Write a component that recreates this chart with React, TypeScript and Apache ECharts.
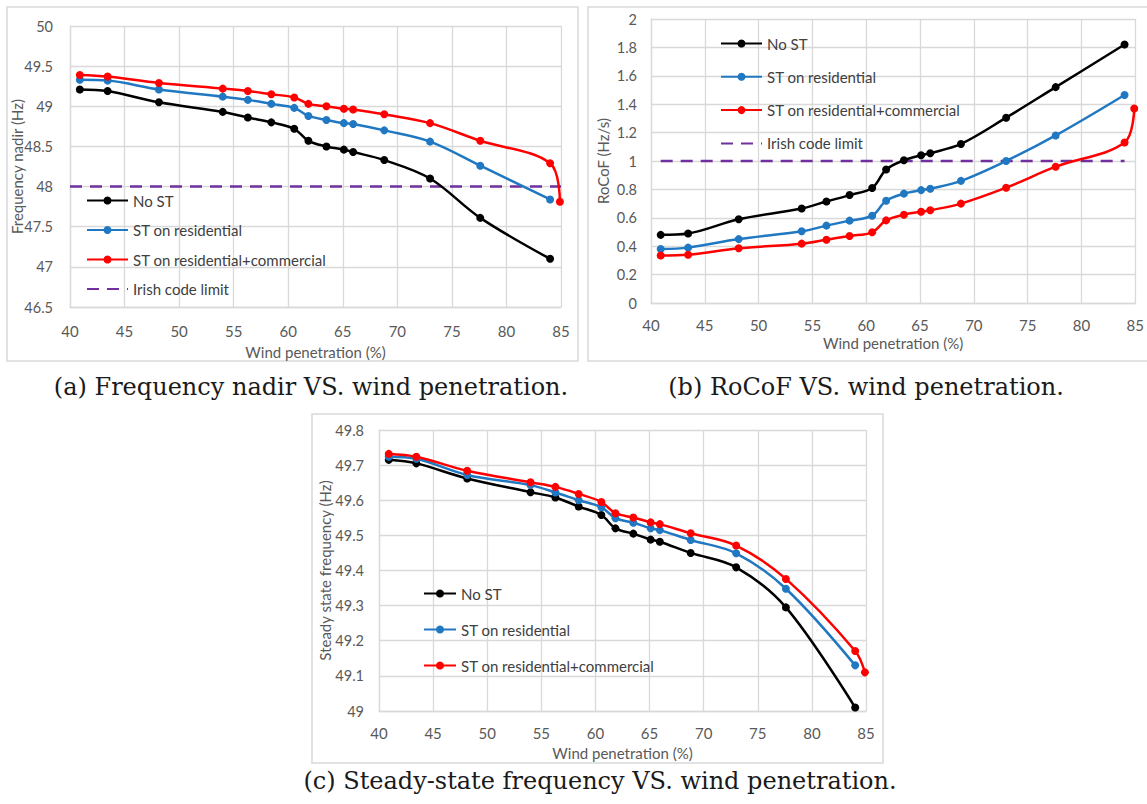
import React, { useEffect, useRef } from "react";
import * as echarts from "echarts";

// ---- data ----
const windPenetration = [40.9, 43.45, 48.15, 54.0, 56.3, 58.45, 60.55, 61.85, 63.5, 65.1, 65.95, 68.8, 73.0, 77.6, 84.0];
const windPenetrationRedExtra = [84.9];

const seriesNames = ["No ST", "ST on residential", "ST on residential+commercial", "Irish code limit"];

const nadirNoST = [49.21, 49.19, 49.05, 48.93, 48.86, 48.8, 48.72, 48.57, 48.5, 48.46, 48.43, 48.33, 48.1, 47.61, 47.1];
const nadirRes = [49.33, 49.32, 49.21, 49.12, 49.08, 49.03, 48.98, 48.88, 48.83, 48.79, 48.78, 48.7, 48.56, 48.26, 47.84];
const nadirResCom = [49.39, 49.37, 49.29, 49.22, 49.19, 49.15, 49.11, 49.03, 49.0, 48.97, 48.96, 48.9, 48.79, 48.57, 48.29, 47.81];
const nadirLimitX = [40, 85];
const nadirLimit = [48, 48];

const rocofNoST = [0.48, 0.49, 0.59, 0.665, 0.715, 0.76, 0.81, 0.94, 1.005, 1.04, 1.055, 1.12, 1.305, 1.52, 1.82];
const rocofRes = [0.38, 0.39, 0.45, 0.505, 0.545, 0.58, 0.615, 0.72, 0.77, 0.795, 0.805, 0.86, 1.0, 1.18, 1.465];
const rocofResCom = [0.335, 0.34, 0.385, 0.418, 0.446, 0.472, 0.498, 0.582, 0.622, 0.643, 0.653, 0.7, 0.812, 0.96, 1.13, 1.37];
const rocofLimitX = [40.9, 84];
const rocofLimit = [1, 1];

const steadyNoST = [49.715, 49.705, 49.662, 49.623, 49.608, 49.582, 49.558, 49.52, 49.505, 49.488, 49.482, 49.45, 49.409, 49.295, 49.01];
const steadyRes = [49.724, 49.718, 49.672, 49.643, 49.622, 49.6, 49.58, 49.549, 49.536, 49.52, 49.515, 49.487, 49.449, 49.348, 49.13];
const steadyResCom = [49.732, 49.724, 49.684, 49.651, 49.638, 49.618, 49.595, 49.563, 49.551, 49.537, 49.532, 49.506, 49.471, 49.376, 49.171, 49.11];

const captions = [
  "(a) Frequency nadir VS. wind penetration.",
  "(b) RoCoF VS. wind penetration.",
  "(c) Steady-state frequency VS. wind penetration.",
];
const yAxisNames = ["Frequency nadir (Hz)", "RoCoF (Hz/s)", "Steady state frequency (Hz)"];
const xAxisName = "Wind penetration (%)";

// ---- styles ----
const COLORS = ["#000000", "#1f78c1", "#ff0000", "#7030a0"];
const FONT = "Lato";
const GRID_COLOR = "#d9d9d9";
const LABEL_COLOR = "#595959";

const xsRed = [...windPenetration, ...windPenetrationRedExtra];
const pairs = (xs: number[], ys: number[]) => ys.map((y, i) => [xs[i], y]);

function dataSeries(name: string, idx: number, xs: number[], ys: number[], axis: number) {
  return {
    type: "line",
    name,
    xAxisIndex: axis,
    yAxisIndex: axis,
    data: pairs(xs, ys),
    smooth: 0.35,
    symbol: "circle",
    symbolSize: 8,
    showSymbol: true,
    lineStyle: { color: COLORS[idx], width: 2.5 },
    itemStyle: { color: COLORS[idx] },
    z: 3 + idx,
  };
}

function limitSeries(xs: number[], ys: number[], axis: number) {
  return {
    type: "line",
    name: seriesNames[3],
    xAxisIndex: axis,
    yAxisIndex: axis,
    data: pairs(xs, ys),
    symbol: "none",
    lineStyle: { color: COLORS[3], width: 2.5, type: [12, 8] },
    itemStyle: { color: COLORS[3], opacity: 0 },
    z: 2,
  };
}

function xAxis(gridIndex: number, nameGap: number, margin: number) {
  return {
    type: "value",
    gridIndex,
    min: 40,
    max: 85,
    interval: 5,
    name: xAxisName,
    nameLocation: "middle",
    nameGap,
    nameMoveOverlap: false,
    nameTextStyle: { color: LABEL_COLOR, fontSize: 15, fontFamily: FONT },
    axisLine: { show: true, lineStyle: { color: GRID_COLOR, width: 1.3 } },
    axisTick: { show: false },
    axisLabel: { color: LABEL_COLOR, fontSize: 15, fontFamily: FONT, margin },
    splitLine: { show: true, lineStyle: { color: GRID_COLOR, width: 1.3 } },
  };
}

function yAxis(gridIndex: number, min: number, max: number, interval: number, name: string, nameGap: number, margin: number) {
  return {
    type: "value",
    gridIndex,
    min,
    max,
    interval,
    name,
    nameLocation: "middle",
    nameGap,
    nameMoveOverlap: false,
    nameTextStyle: { color: LABEL_COLOR, fontSize: 15, fontFamily: FONT },
    axisLine: { show: true, lineStyle: { color: GRID_COLOR, width: 1.3 } },
    axisTick: { show: false },
    axisLabel: { color: LABEL_COLOR, fontSize: 14.5, fontFamily: FONT, margin },
    splitLine: { show: true, lineStyle: { color: GRID_COLOR, width: 1.3 } },
  };
}

function legend(left: number, top: number, gap: number, width: number, names: string[]) {
  return {
    orient: "vertical",
    left,
    top,
    padding: 0,
    itemWidth: width,
    itemHeight: 10,
    itemGap: gap,
    data: names.map((n) =>
      n === seriesNames[3] ? { name: n, itemStyle: { opacity: 0 } } : { name: n }
    ),
    textStyle: { color: "#404040", fontSize: 15, fontFamily: FONT, lineHeight: 14 },
    selectedMode: false,
  };
}

function frame(x: number, y: number, w: number, h: number) {
  return {
    type: "rect",
    shape: { x, y, width: w, height: h },
    style: { fill: "none", stroke: GRID_COLOR, lineWidth: 1.5 },
    silent: true,
  };
}

function caption(text: string, x: number, y: number) {
  return {
    type: "text",
    x,
    y,
    style: {
      text,
      fill: "#1a1a1a",
      fontSize: 24,
      fontFamily: "DejaVu Serif",
      align: "center",
      verticalAlign: "middle",
    },
    silent: true,
  };
}

export default function App() {
  const ref = useRef<HTMLDivElement>(null);
  useEffect(() => {
    if (!ref.current) return;
    const chart = echarts.init(ref.current, undefined, { renderer: "svg" });
    chart.setOption({
      animation: false,
      backgroundColor: "#ffffff",
      grid: [
        { left: 70, top: 26, width: 491, height: 281 },
        { left: 651, top: 19, width: 487, height: 284 },
        { left: 379, top: 430, width: 487, height: 281 },
      ],
      xAxis: [xAxis(0, 37, 16), xAxis(1, 32, 14), xAxis(2, 34, 14)],
      yAxis: [
        yAxis(0, 46.5, 50, 0.5, yAxisNames[0], 46, 17),
        yAxis(1, 0, 2, 0.2, yAxisNames[1], 41, 14),
        yAxis(2, 49, 49.8, 0.1, yAxisNames[2], 47, 15),
      ],
      legend: [
        legend(86, 193, 14.5, 41, seriesNames),
        legend(720, 36, 18.3, 41, seriesNames),
        legend(423, 586, 21, 32, seriesNames.slice(0, 3)),
      ],
      graphic: [
        frame(7, 7, 571, 354),
        frame(588, 7, 570, 354),
        frame(312, 414, 571, 349),
        caption(captions[0], 311, 387),
        caption(captions[1], 866, 387),
        caption(captions[2], 600, 781),
      ],
      series: [
        limitSeries(nadirLimitX, nadirLimit, 0),
        dataSeries(seriesNames[0], 0, windPenetration, nadirNoST, 0),
        dataSeries(seriesNames[1], 1, windPenetration, nadirRes, 0),
        dataSeries(seriesNames[2], 2, xsRed, nadirResCom, 0),
        limitSeries(rocofLimitX, rocofLimit, 1),
        dataSeries(seriesNames[0], 0, windPenetration, rocofNoST, 1),
        dataSeries(seriesNames[1], 1, windPenetration, rocofRes, 1),
        dataSeries(seriesNames[2], 2, xsRed, rocofResCom, 1),
        dataSeries(seriesNames[0], 0, windPenetration, steadyNoST, 2),
        dataSeries(seriesNames[1], 1, windPenetration, steadyRes, 2),
        dataSeries(seriesNames[2], 2, xsRed, steadyResCom, 2),
      ],
    });
    return () => chart.dispose();
  }, []);
  return (
    <div
      ref={ref}
      style={{ position: "absolute", left: 0, top: 0, width: 1147, height: 804, background: "#fff" }}
    />
  );
}
